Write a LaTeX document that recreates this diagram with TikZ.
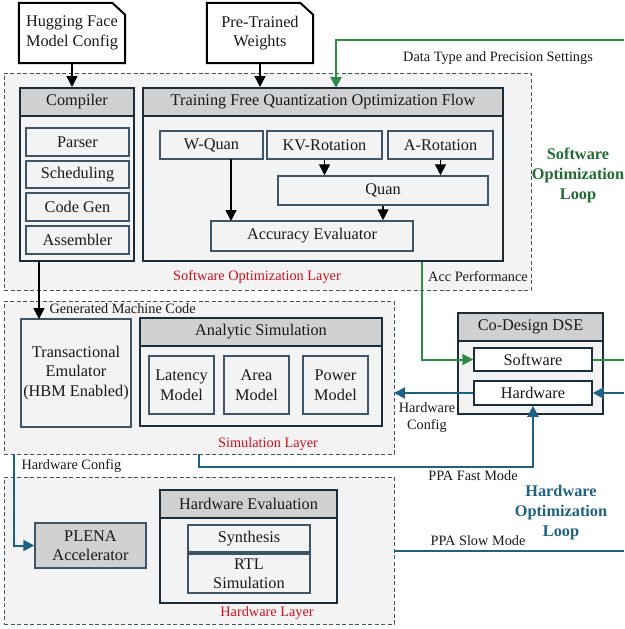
\documentclass[tikz,border=0pt]{standalone}
\usepackage{fontspec}
\setmainfont{Liberation Serif}
\usetikzlibrary{arrows.meta}
\definecolor{dk}{HTML}{1B2D3B}
\definecolor{slate}{HTML}{3D5566}
\definecolor{lgray}{HTML}{F3F3F3}
\definecolor{hgray}{HTML}{D0D0D0}
\definecolor{gcol}{HTML}{2F8A48}
\definecolor{gtext}{HTML}{1F6B30}
\definecolor{bcol}{HTML}{1F6185}
\definecolor{redt}{HTML}{D0101A}
\newcommand\mkbox[7]{\node[#1, minimum width={#5-#3}, minimum height={#6-#4}, inner sep=0pt] (#2) at ({(#3+#5)/2},{(#4+#6)/2}) {#7};}
\begin{document}
\begin{tikzpicture}[x=1pt,y=-1pt,
  every node/.style={font=\fontsize{16.3}{19.5}\selectfont, text=black!90, align=center},
  layer/.style={draw=slate, dash pattern=on 4pt off 2.5pt, fill=lgray, line width=1pt},
  outer/.style={draw=dk, line width=2pt, fill=lgray},
  hdr/.style={draw=dk, line width=2pt, fill=hgray},
  inner/.style={draw=slate, line width=1.5pt, fill=lgray},
  inwhite/.style={draw=dk, line width=1.5pt, fill=white},
  docshape/.style={draw=black, line width=2pt, fill=white},
  lbl/.style={font=\fontsize{14.3}{17}\selectfont},
  redlbl/.style={font=\fontsize{14.3}{17}\selectfont, text=redt},
  arr/.style={-{Triangle[length=11pt,width=11pt]}, line width=1.5pt, black},
  garr/.style={-{Triangle[length=11pt,width=11pt]}, line width=2pt, gcol},
  glin/.style={line width=2pt, gcol},
  barr/.style={-{Triangle[length=11pt,width=11pt]}, line width=2pt, bcol},
  blin/.style={line width=2pt, bcol},
  looplbl/.style={font=\fontsize{16.3}{20}\selectfont\bfseries}
]
\useasboundingbox (0,0) rectangle (624,629);

% layers
\mkbox{layer}{swl}{4}{73}{531}{290}{}
\mkbox{layer}{siml}{4}{301}{394}{454}{}
\mkbox{layer}{hwl}{4}{477}{394}{624}{}

% document inputs
\mkbox{}{hf}{19}{3}{125}{63}{}
\draw[docshape] (hf.south west) -- (hf.north west) -- ([xshift=-13pt]hf.north east) -- ([yshift=-12pt]hf.north east) -- (hf.south east) -- cycle;
\node (hft) at (hf) {Hugging Face\\Model Config};
\mkbox{}{ptw}{207}{3}{313}{63}{}
\draw[docshape] (ptw.south west) -- (ptw.north west) -- ([xshift=-13pt]ptw.north east) -- ([yshift=-12pt]ptw.north east) -- (ptw.south east) -- cycle;
\node (ptwt) at (ptw) {Pre-Trained\\Weights};

% compiler
\mkbox{outer}{comp}{20}{88}{134}{261}{}
\mkbox{hdr}{comph}{20}{88}{134}{116}{Compiler}
\mkbox{inner}{parser}{26}{128}{129}{156}{Parser}
\mkbox{inner}{sched}{26}{161}{129}{188}{Scheduling}
\mkbox{inner}{codegen}{26}{193}{129}{221}{Code Gen}
\mkbox{inner}{asm}{26}{226}{129}{254}{Assembler}

% training free
\mkbox{outer}{tf}{143}{88}{503}{261}{}
\mkbox{hdr}{tfh}{143}{88}{503}{116}{Training Free Quantization Optimization Flow}
\mkbox{inner}{wq}{160}{131}{263}{159}{W-Quan}
\mkbox{inner}{kv}{267}{131}{382}{159}{KV-Rotation}
\mkbox{inner}{ar}{388}{131}{493}{159}{A-Rotation}
\mkbox{inner}{quan}{278}{176}{488}{205}{Quan}
\mkbox{inner}{acc}{211}{221}{413}{251}{Accuracy Evaluator}

\draw[arr] (231,159) -- (231,221);
\draw[arr] (kv.south) -- (kv.south |- quan.north);
\draw[arr] (ar.south) -- (ar.south |- quan.north);
\draw[arr] (quan.south) -- (quan.south |- acc.north);

\node[redlbl] (swlt) at (257,277) {Software Optimization Layer};
\node[lbl] (accp) at (478,277) {Acc Performance};

% simulation layer
\mkbox{inner}{te}{21}{319}{131}{427}{Transactional\\Emulator\\(HBM Enabled)}
\mkbox{outer}{an}{140}{318}{382}{426}{}
\mkbox{hdr}{anh}{140}{318}{382}{346}{Analytic Simulation}
\mkbox{inner}{lat}{149}{356}{214}{414}{Latency\\Model}
\mkbox{inner}{area}{224}{356}{289}{414}{Area\\Model}
\mkbox{inner}{pow}{303}{356}{368}{414}{Power\\Model}
\node[redlbl] (simlt) at (268,444) {Simulation Layer};
\node[lbl, anchor=west] (gmc) at (46,309) {Generated Machine Code};

% co-design
\mkbox{outer}{cd}{458}{313}{603}{414}{}
\mkbox{hdr}{cdh}{458}{313}{603}{341}{Co-Design DSE}
\mkbox{inwhite}{sw}{474}{348}{592}{371}{Software}
\mkbox{inwhite}{hw}{474}{381}{592}{405}{Hardware}

% hardware layer
\node[draw=slate, line width=1.5pt, fill=hgray, minimum width=111, minimum height=45, inner sep=0pt] (plenab) at (90.5,545.5) {PLENA\\Accelerator};
\mkbox{outer}{he}{160}{490}{337}{603}{}
\mkbox{hdr}{heh}{160}{490}{337}{518}{Hardware Evaluation}
\mkbox{inner}{syn}{188}{525}{310}{552}{Synthesis}
\mkbox{inner}{rtl}{188}{554}{310}{593}{RTL\\Simulation}
\node[redlbl] (hwlt) at (267,613) {Hardware Layer};

% black arrows
\draw[arr] (hft.south |- hf.south) -- (hft.south |- comph.north);
\draw[arr] (ptwt.south |- ptw.south) -- (ptwt.south |- tfh.north);
\draw[arr] (39,261) -- (39,319);

% green loop
\coordinate (gtop) at (624,40);
\draw[garr] (gtop) -- (336,40) -- (336,88);
\node[lbl] (dtp) at (498,58) {Data Type and Precision Settings};
\draw[garr] (422,262) |- (sw.west);
\coordinate (gright) at (624,359.5);
\draw[glin] (sw.east) -- (gright);
\node[looplbl, text=gtext] (swloop) at (578,175) {Software\\Optimization\\Loop};

% blue loop
\coordinate (bright) at (624,393);
\draw[barr] (hw.west) -- (394,393);
\draw[barr] (bright) -- (hw.east);
\node[lbl] (hwc) at (427,418) {Hardware\\Config};
\draw[barr] (199,454) -- (199,467) -| (hw.south);
\node[lbl] (ppaf) at (473,476) {PPA Fast Mode};
\draw[barr] (14,454) |- (plenab.west);
\node[lbl, anchor=west] (hwc2) at (18,466) {Hardware Config};
\coordinate (bslow) at (624,551);
\draw[blin] (394,551) -- (bslow);
\node[lbl] (ppas) at (478,541) {PPA Slow Mode};
\node[looplbl, text=bcol] (hwloop) at (561,513) {Hardware\\Optimization\\Loop};
\end{tikzpicture}
\end{document}
